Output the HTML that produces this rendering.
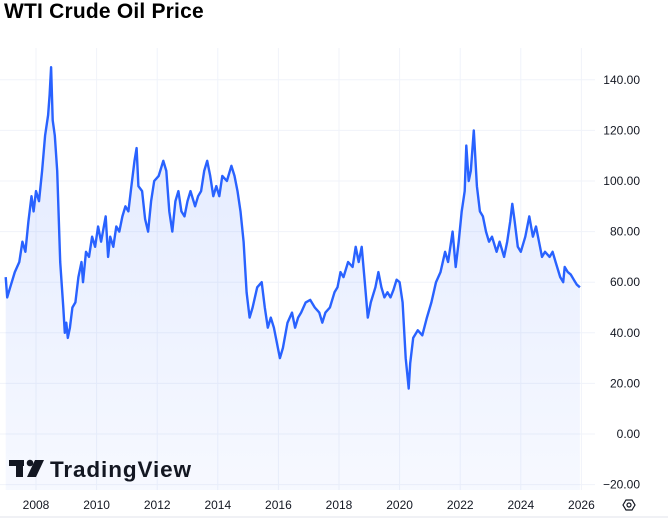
<!DOCTYPE html>
<html><head><meta charset="utf-8"><style>
body{margin:0;width:668px;height:530px;background:#fff;overflow:hidden;font-family:"Liberation Sans",sans-serif}
#title{position:absolute;left:4px;top:0px;font-size:21px;font-weight:bold;color:#000;letter-spacing:0.2px}
svg{position:absolute;left:0;top:0}
</style></head><body>
<div id="title">WTI Crude Oil Price</div>
<svg id="c" width="668" height="530">
<defs><linearGradient id="g" x1="0" y1="0" x2="0" y2="1"><stop offset="0" stop-color="#2962ff" stop-opacity="0.14"/><stop offset="1" stop-color="#2962ff" stop-opacity="0.04"/></linearGradient></defs>
<g id="grid"></g><path id="area" fill="url(#g)"/><path id="line" fill="none" stroke="#2962ff" stroke-width="2.4" stroke-linejoin="round"/><g id="axes"></g>
<g>
<rect x="9" y="460" width="15" height="6" fill="#131722"/><rect x="16" y="460" width="7" height="17" fill="#131722"/><circle cx="30" cy="463" r="3.3" fill="#131722"/><polygon points="35,460 44,460 36,477 27,477" fill="#131722"/>
<text x="50" y="477" font-size="22.5" font-weight="bold" fill="#131722" font-family="Liberation Sans, sans-serif" textLength="141">TradingView</text></g>
<line x1="0" y1="517" x2="668" y2="517" stroke="#e0e3eb"/>
<g><polygon points="623,505 626,500 632,500 635,505 632,510 626,510" fill="none" stroke="#131722" stroke-width="1.2"/><circle cx="629" cy="505" r="2" fill="none" stroke="#131722" stroke-width="1.2"/></g>
</svg>
<script>
const years=[2007,2007.05,2007.15,2007.3,2007.45,2007.55,2007.65,2007.75,2007.85,2007.92,2008,2008.1,2008.2,2008.3,2008.4,2008.45,2008.5,2008.55,2008.62,2008.7,2008.8,2008.9,2008.95,2009,2009.05,2009.12,2009.2,2009.3,2009.4,2009.5,2009.55,2009.65,2009.75,2009.85,2009.95,2010.05,2010.15,2010.3,2010.38,2010.45,2010.55,2010.65,2010.75,2010.85,2010.95,2011.05,2011.15,2011.25,2011.32,2011.38,2011.5,2011.6,2011.7,2011.8,2011.9,2012.05,2012.2,2012.3,2012.4,2012.5,2012.6,2012.7,2012.8,2012.9,2013,2013.1,2013.25,2013.35,2013.45,2013.55,2013.65,2013.75,2013.85,2013.95,2014.05,2014.15,2014.3,2014.45,2014.55,2014.65,2014.75,2014.85,2014.95,2015.05,2015.15,2015.3,2015.45,2015.55,2015.65,2015.75,2015.85,2015.95,2016.05,2016.15,2016.3,2016.45,2016.55,2016.65,2016.75,2016.9,2017.05,2017.2,2017.35,2017.45,2017.55,2017.7,2017.85,2017.95,2018.05,2018.15,2018.3,2018.45,2018.55,2018.65,2018.75,2018.85,2018.95,2019.05,2019.2,2019.3,2019.4,2019.5,2019.6,2019.7,2019.8,2019.9,2020,2020.1,2020.2,2020.3,2020.35,2020.45,2020.6,2020.75,2020.9,2021.05,2021.2,2021.35,2021.5,2021.6,2021.75,2021.85,2021.95,2022.05,2022.15,2022.2,2022.28,2022.35,2022.45,2022.55,2022.65,2022.75,2022.85,2022.95,2023.05,2023.2,2023.3,2023.45,2023.55,2023.65,2023.72,2023.8,2023.9,2024,2024.15,2024.28,2024.4,2024.5,2024.6,2024.7,2024.8,2024.95,2025.05,2025.15,2025.3,2025.4,2025.45,2025.55,2025.65,2025.75,2025.85,2025.95];
const prices=[62,54,58,64,68,76,72,84,94,88,96,92,104,118,126,134,145,124,118,104,68,50,40,44,38,42,50,52,62,68,60,72,70,78,74,82,76,86,70,78,74,82,80,86,90,88,98,108,113,98,96,85,80,92,100,102,108,104,88,80,92,96,88,86,92,96,90,94,96,104,108,102,94,98,94,102,100,106,102,96,88,76,56,46,50,58,60,50,42,46,42,36,30,34,44,48,42,46,48,52,53,50,48,44,48,50,56,58,64,62,68,66,74,68,74,60,46,52,58,64,58,54,56,54,57,61,60,52,30,18,28,38,41,39,46,52,60,64,72,68,80,66,76,88,96,114,100,104,120,98,88,86,80,76,78,72,76,70,76,84,91,84,74,72,78,86,78,82,76,70,72,70,72,68,62,60,66,64,63,61,59,58];
const yTicks=[140,120,100,80,60,40,20,0,-20];
const xTicks=[2008,2010,2012,2014,2016,2018,2020,2022,2024,2026];
const X=t=>36+(t-2008)*30.3, Y=v=>434-v*2.53;
const NS='http://www.w3.org/2000/svg';
const grid=document.getElementById('grid'),axes=document.getElementById('axes');
function mk(tag,attrs,parent){const e=document.createElementNS(NS,tag);for(const k in attrs)e.setAttribute(k,attrs[k]);parent.appendChild(e);return e;}
yTicks.forEach(v=>{const l=mk('line',{x1:0,x2:595,y1:Y(v),y2:Y(v),stroke:'#f0f3fa'},grid);


const t=mk('text',{x:640,y:Y(v)+4,'text-anchor':'end','font-size':12,fill:'#131722'},axes);t.textContent=v.toFixed(2).replace('-','\u2212');

});
xTicks.forEach(v=>{const l=mk('line',{x1:X(v),x2:X(v),y1:48,y2:490,stroke:'#f0f3fa'},grid);


const t=mk('text',{x:X(v),y:509,'text-anchor':'middle','font-size':12,fill:'#131722'},axes);t.textContent=v;

});
let d='';years.forEach((t,i)=>{d+=(i?'L':'M')+X(t).toFixed(1)+','+Y(prices[i]).toFixed(1);});
document.getElementById('line').setAttribute('d',d);
document.getElementById('area').setAttribute('d',d+'L'+X(years[years.length-1]).toFixed(1)+',490L'+X(years[0]).toFixed(1)+',490Z');
</script>
</body></html>
